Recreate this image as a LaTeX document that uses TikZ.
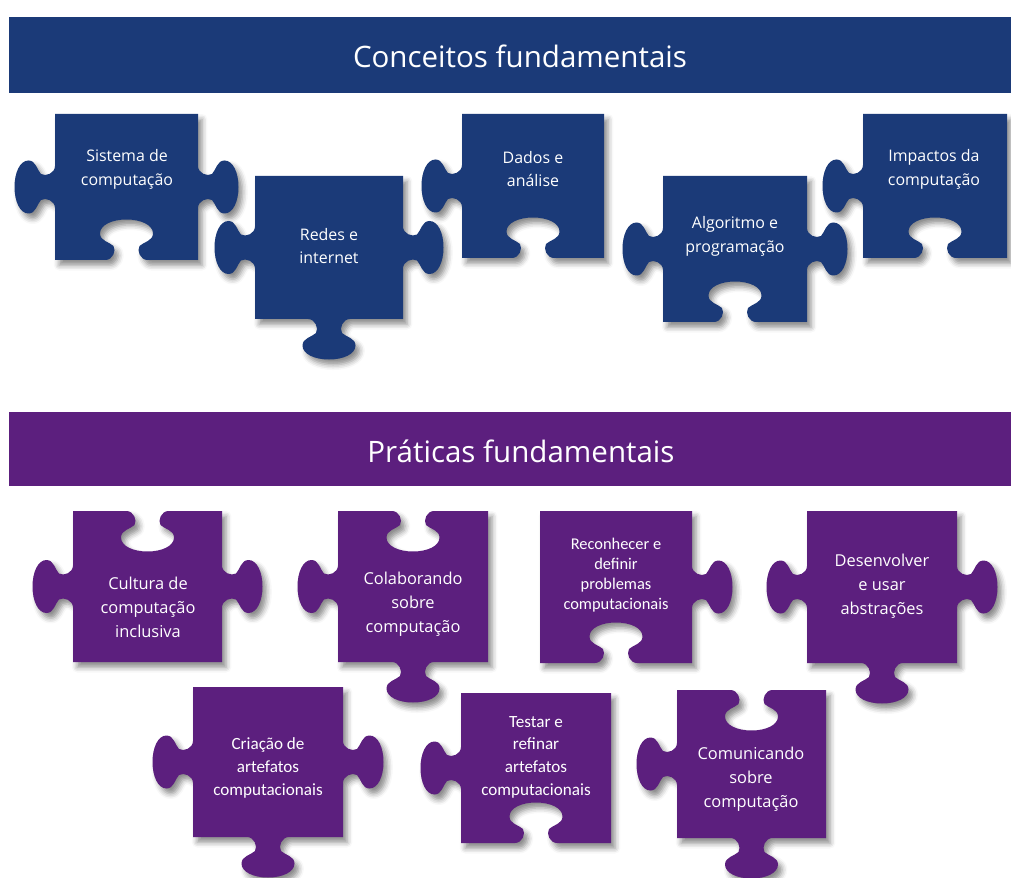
\documentclass[tikz,border=0pt]{standalone}
\usepackage{fontspec}
\setmainfont{Open Sans}
\newfontfamily\narrowfont{Carlito}
\usetikzlibrary{shadows.blur}

\definecolor{conceptblue}{HTML}{1B3A78}
\definecolor{practicepurple}{HTML}{5C1F7E}

% outline of one jigsaw piece, collected in \piecepath
\newcommand\pzto[1]{\xdef\piecepath{\piecepath#1}}
\newcommand\pzpt[2]{%
  \pgfmathsetmacro\pzx{\smx+(#1)*(\sdx)+(\sk)*(#2)*(\sdy)}%
  \pgfmathsetmacro\pzy{\smy+(#1)*(\sdy)-(\sk)*(#2)*(\sdx)}%
  \pzto{(\pzx,\pzy)}}
% one side: midpoint, direction, 1 = knob, -1 = hole, 0 = flat
\newcommand\pzside[5]{%
  \def\smx{#1}\def\smy{#2}\def\sdx{#3}\def\sdy{#4}\def\sk{#5}%
  \pzto{ -- }\pzpt{-21}{0}%
  \pzto{ .. controls }\pzpt{-14}{0}\pzto{ and }\pzpt{-10}{9}\pzto{ .. }\pzpt{-13}{14}%
  \pzto{ .. controls }\pzpt{-17}{18}\pzto{ and }\pzpt{-26.5}{19}\pzto{ .. }\pzpt{-26.5}{26.5}%
  \pzto{ .. controls }\pzpt{-26.5}{35}\pzto{ and }\pzpt{-14.5}{40.5}\pzto{ .. }\pzpt{0}{40.5}%
  \pzto{ .. controls }\pzpt{14.5}{40.5}\pzto{ and }\pzpt{26.5}{35}\pzto{ .. }\pzpt{26.5}{26.5}%
  \pzto{ .. controls }\pzpt{26.5}{19}\pzto{ and }\pzpt{17}{18}\pzto{ .. }\pzpt{13}{14}%
  \pzto{ .. controls }\pzpt{10}{9}\pzto{ and }\pzpt{14}{0}\pzto{ .. }\pzpt{21}{0}}
% x, y, width, height, then top / right / bottom / left
\newcommand\makepiece[8]{%
  \pgfmathsetmacro\pzr{#1+#3}\pgfmathsetmacro\pzb{#2+#4}%
  \pgfmathsetmacro\pzcx{#1+#3/2}\pgfmathsetmacro\pzcy{#2+#4/2}%
  \xdef\piecepath{(#1,#2)}%
  \pzside{\pzcx}{#2}{1}{0}{#5}\pzto{ -- (\pzr,#2)}%
  \pzside{\pzr}{\pzcy}{0}{1}{#6}\pzto{ -- (\pzr,\pzb)}%
  \pzside{\pzcx}{\pzb}{-1}{0}{#7}\pzto{ -- (#1,\pzb)}%
  \pzside{#1}{\pzcy}{0}{-1}{#8}\pzto{ -- cycle}}

\begin{document}
\begin{tikzpicture}[x=0.03cm,y=-0.03cm,
  pieceshadow/.style={blur shadow={shadow xshift=3.5pt,shadow yshift=-4.5pt,
      shadow blur radius=4.5pt,shadow opacity=45}},
  concept/.style={fill=conceptblue,pieceshadow},
  practice/.style={fill=practicepurple,pieceshadow},
  bannertext/.style={text=white,font=\fontsize{25.2}{30}\selectfont},
  conceptlabel/.style={text=white,align=center,font=\fontsize{13.6}{20.4}\selectfont},
  practicelabel/.style={text=white,align=center,font=\fontsize{14}{20.4}\selectfont},
  narrowlabel/.style={text=white,align=center,font=\narrowfont\fontsize{14.6}{19.4}\selectfont}]
\useasboundingbox (0,0) rectangle (1011,878);

% concepts
\fill[conceptblue] (9,17) rectangle (1011,93);
\node[bannertext] (concepts) at (520,56) {Conceitos fundamentais};

\makepiece{55}{114}{143}{146}{0}{1}{-1}{1}
\fill[concept] \piecepath;
\node[conceptlabel] (sistema) at (127,169) {Sistema de\\computação};

\makepiece{255}{176}{148}{143}{0}{1}{1}{1}
\fill[concept] \piecepath;
\node[conceptlabel] (redes) at (329,246) {Redes e\\internet};

\makepiece{462}{114}{142}{144}{0}{0}{-1}{1}
\fill[concept] \piecepath;
\node[conceptlabel] (dados) at (533,169) {Dados e\\análise};

\makepiece{663}{176}{144}{146}{0}{1}{-1}{1}
\fill[concept] \piecepath;
\node[conceptlabel] (algoritmo) at (735,236) {Algoritmo e\\programação};

\makepiece{863}{114}{144}{144}{0}{0}{-1}{1}
\fill[concept] \piecepath;
\node[conceptlabel] (impactos) at (934,169) {Impactos da\\computação};

% practices
\fill[practicepurple] (9,412) rectangle (1011,486);
\node[bannertext] (practices) at (521,451) {Práticas fundamentais};

\makepiece{73}{511}{149}{151}{-1}{1}{0}{1}
\fill[practice] \piecepath;
\node[practicelabel] (cultura) at (148,607) {Cultura de\\computação\\inclusiva};

\makepiece{338}{511}{150}{151}{-1}{0}{1}{1}
\fill[practice] \piecepath;
\node[practicelabel] (colaborando) at (413,604) {Colaborando\\sobre\\computação};

\makepiece{540}{511}{152}{152}{0}{1}{-1}{0}
\fill[practice] \piecepath;
\node[narrowlabel,font=\narrowfont\fontsize{14}{17}\selectfont] (reconhecer) at (616,575)
  {Reconhecer e\\definir\\problemas\\computacionais};

\makepiece{807}{511}{150}{152}{0}{1}{1}{1}
\fill[practice] \piecepath;
\node[practicelabel] (desenvolver) at (882,586) {Desenvolver\\e usar\\abstrações};

\makepiece{193}{687}{150}{150}{0}{1}{1}{1}
\fill[practice] \piecepath;
\node[narrowlabel] (criacao) at (268,768) {Criação de\\artefatos\\computacionais};

\makepiece{461}{693}{150}{150}{0}{0}{-1}{1}
\fill[practice] \piecepath;
\node[narrowlabel] (testar) at (536,757) {Testar e\\refinar\\artefatos\\computacionais};

\makepiece{677}{690}{149}{148}{-1}{0}{1}{1}
\fill[practice] \piecepath;
\node[practicelabel] (comunicando) at (751,779) {Comunicando\\sobre\\computação};
\end{tikzpicture}
\end{document}
